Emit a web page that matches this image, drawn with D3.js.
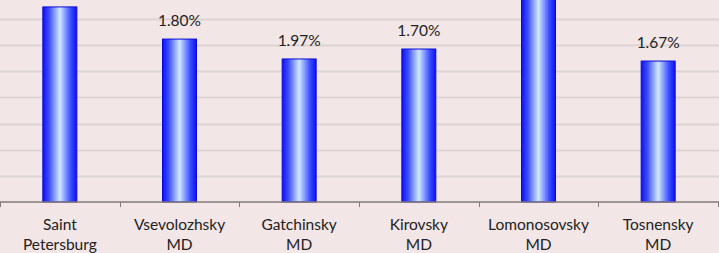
<!DOCTYPE html>
<html>
<head>
<meta charset="utf-8">
<script src="https://cdn.jsdelivr.net/npm/d3@7"></script>
<style>
  html, body { margin: 0; padding: 0; background: #f3e6e6; }
  svg { display: block; }
</style>
</head>
<body>
<div id="chart"></div>
<script>
// districts and their bar values (grid units), labels shown over bars
const districts = [["Saint", "Petersburg"], ["Vsevolozhsky", "MD"], ["Gatchinsky", "MD"],
                   ["Kirovsky", "MD"], ["Lomonosovsky", "MD"], ["Tosnensky", "MD"]];
const barValues = [7.46, 6.23, 5.47, 5.85, 8.1, 5.39];
const barLabels = ["", "1.80%", "1.97%", "1.70%", "", "1.67%"];
const gridTicks = [1, 2, 3, 4, 5, 6, 7];

const width = 719, height = 253;
const margin = { top: 0, right: 1, bottom: 51, left: 0 };
const unit = 26.15; // px per grid step

const svg = d3.select('#chart').append('svg')
    .attr('width', width).attr('height', height);

svg.append('rect').attr('width', width).attr('height', height).attr('fill', '#f3e6e6');

const baseY = height - margin.bottom;

const x = d3.scaleBand()
    .domain(districts.map((d, i) => i))
    .range([margin.left, width - margin.right])
    .paddingInner(0.716)
    .paddingOuter(0.358);

const y = d3.scaleLinear()
    .domain([0, 1])
    .range([baseY, baseY - unit]);

// gradient for bars
const defs = svg.append('defs');
const grad = defs.append('linearGradient').attr('id', 'barGrad')
    .attr('x1', '0%').attr('x2', '100%').attr('y1', '0%').attr('y2', '0%');
grad.append('stop').attr('offset', '0%').attr('stop-color', '#1010f0');
grad.append('stop').attr('offset', '18%').attr('stop-color', '#3a4cff');
grad.append('stop').attr('offset', '50%').attr('stop-color', '#cfe9ff');
grad.append('stop').attr('offset', '82%').attr('stop-color', '#3a4cff');
grad.append('stop').attr('offset', '100%').attr('stop-color', '#1010f0');

// gridlines
svg.append('g')
  .selectAll('line')
  .data(gridTicks)
  .join('line')
    .attr('x1', 0).attr('x2', width)
    .attr('y1', d => Math.round(y(d)) + 0.5)
    .attr('y2', d => Math.round(y(d)) + 0.5)
    .attr('stroke', '#ddd3d3')
    .attr('stroke-width', 2);

// bars
svg.append('g')
  .selectAll('rect')
  .data(barValues)
  .join('rect')
    .attr('x', (d, i) => x(i))
    .attr('y', d => y(d))
    .attr('width', x.bandwidth())
    .attr('height', d => baseY - y(d))
    .attr('fill', 'url(#barGrad)')
    .attr('stroke', '#0a0ad8')
    .attr('stroke-width', 1);

// value labels
svg.append('g')
  .selectAll('text')
  .data(barLabels)
  .join('text')
    .attr('x', (d, i) => x(i) + x.bandwidth() / 2)
    .attr('y', (d, i) => y(barValues[i]) - 13)
    .attr('text-anchor', 'middle')
    .attr('font-family', 'Lato, "Open Sans", sans-serif')
    .attr('font-size', 15.5)
    .attr('fill', '#222')
    .text(d => d);

// x axis
const xAxisScale = d3.scaleLinear().domain([0, districts.length]).range([margin.left, width - margin.right]);
const axis = svg.append('g').attr('transform', `translate(0,${baseY})`);
axis.append('line')
    .attr('x1', 0).attr('x2', width)
    .attr('stroke', '#857a7a').attr('stroke-width', 1.5);
axis.selectAll('.tick')
  .data(d3.range(districts.length + 1))
  .join('line')
    .attr('class', 'tick')
    .attr('x1', d => Math.round(xAxisScale(d)) + 0.5)
    .attr('x2', d => Math.round(xAxisScale(d)) + 0.5)
    .attr('y1', 0).attr('y2', 5)
    .attr('stroke', '#857a7a');

const labels = axis.selectAll('.cat')
  .data(districts)
  .join('text')
    .attr('class', 'cat')
    .attr('text-anchor', 'middle')
    .attr('font-family', 'Lato, "Open Sans", sans-serif')
    .attr('font-size', 15.5)
    .attr('fill', '#222');
labels.each(function(d, i) {
  const t = d3.select(this);
  d.forEach((line, j) => {
    t.append('tspan')
      .attr('x', x(i) + x.bandwidth() / 2)
      .attr('y', 28 + j * 20)
      .text(line);
  });
});
</script>
</body>
</html>
